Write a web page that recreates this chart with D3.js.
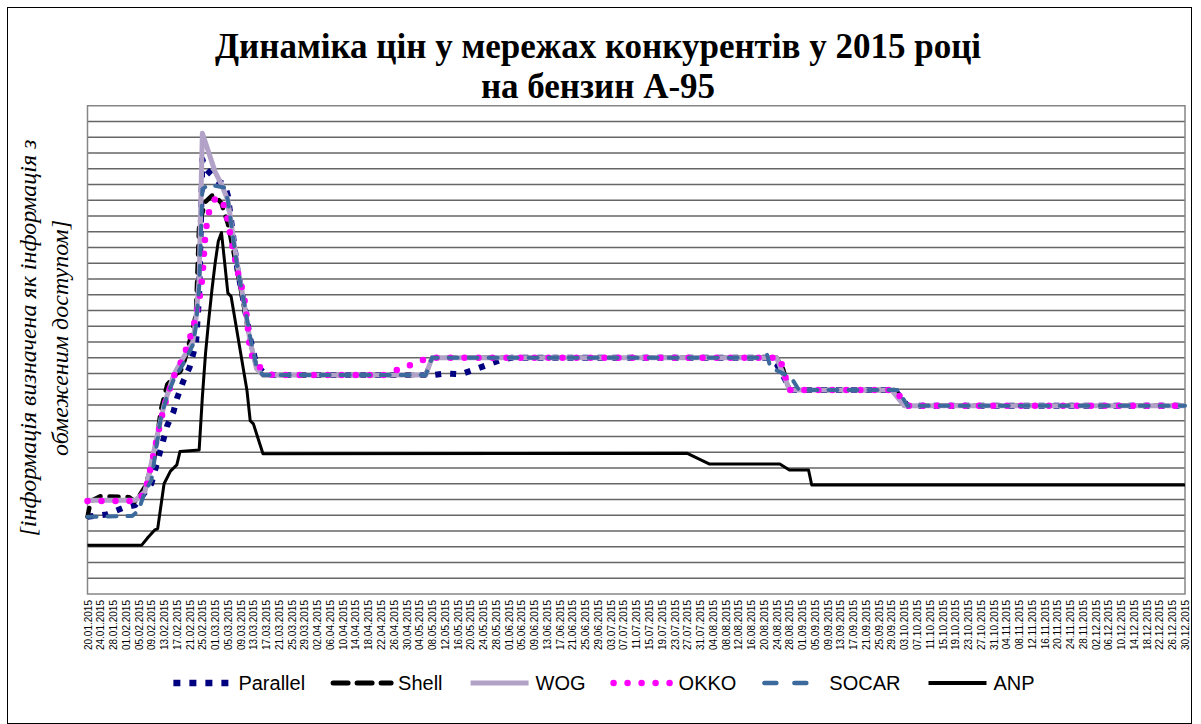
<!DOCTYPE html>
<html>
<head>
<meta charset="utf-8">
<style>
  body { margin: 0; background: #fff; }
  svg { display: block; }
  .tick text { font-family: "Liberation Sans", Arial, sans-serif; font-size: 10px; fill: #000; }
</style>
</head>
<body>
<script src="https://cdn.jsdelivr.net/npm/d3@7"></script>
<script>
// values are in grid units (the real price axis is hidden in the source)
var parallel = [["20.01",4.9],["26.01",5.05],["31.01",5.45],["04.02",5.65],["09.02",7.0],["14.02",10.7],["16.02",11.6],["17.02",12.4],["19.02",13.5],["21.02",14.4],["23.02",15.9],["24.02",19.0],["25.02",27.6],["26.02",27.0],["28.02",26.6],["01.03",26.3],["04.03",26.0],["05.03",25.3],["08.03",20.6],["10.03",18.5],["12.03",16.2],["14.03",14.5],["17.03",13.9],["08.05",13.9],["12.05",14.0],["17.05",13.95],["22.05",14.3],["26.05",14.6],["30.05",14.9],["02.06",15.0],["21.08",15.0],["24.08",14.6],["27.08",13.5],["29.08",12.95],["30.09",12.95],["04.10",11.96],["30.12",11.96]];
var shell = [["20.01",4.9],["21.01",5.9],["24.01",6.2],["02.02",6.15],["04.02",5.85],["07.02",6.8],["10.02",8.7],["12.02",11.7],["14.02",13.3],["17.02",14.0],["18.02",14.1],["19.02",14.5],["22.02",16.8],["23.02",17.8],["24.02",23.5],["26.02",24.9],["28.02",25.3],["01.03",25.3],["03.03",24.8],["05.03",23.5],["08.03",20.5],["10.03",18.3],["12.03",16.0],["14.03",14.4],["16.03",13.9],["06.05",13.9],["08.05",15.0],["24.08",15.0],["26.08",14.3],["27.08",13.6],["28.08",12.95],["30.09",12.95],["03.10",11.96],["30.12",11.96]];
var wog = [["20.01",5.95],["04.02",5.95],["07.02",6.5],["09.02",8.3],["11.02",10.2],["13.02",12.0],["16.02",13.9],["19.02",15.0],["22.02",16.0],["23.02",17.5],["24.02",20.0],["25.02",29.25],["01.03",26.8],["03.03",26.0],["05.03",25.0],["08.03",20.8],["10.03",18.6],["12.03",16.0],["14.03",14.3],["16.03",13.9],["06.05",13.9],["08.05",15.0],["24.08",15.0],["27.08",13.5],["28.08",12.95],["29.09",12.95],["03.10",11.96],["30.12",11.96]];
var okko = [["20.01",5.9],["04.02",5.9],["07.02",6.4],["09.02",8.2],["11.02",10.1],["13.02",11.9],["16.02",13.8],["19.02",15.0],["22.02",16.8],["24.02",18.6],["25.02",20.1],["26.02",23.0],["27.02",24.2],["01.03",25.1],["03.03",25.1],["04.03",24.5],["05.03",23.7],["06.03",22.5],["08.03",20.5],["10.03",19.0],["11.03",17.5],["12.03",15.3],["15.03",14.4],["17.03",14.1],["19.03",13.9],["23.04",13.9],["28.04",14.3],["02.05",14.6],["07.05",15.0],["25.08",15.0],["26.08",14.3],["27.08",13.6],["28.08",12.95],["30.09",12.95],["04.10",11.96],["30.12",11.96]];
var socar = [["20.01",4.9],["03.02",4.95],["05.02",5.3],["07.02",6.5],["09.02",7.2],["12.02",11.2],["14.02",12.6],["16.02",13.6],["19.02",14.6],["22.02",15.8],["23.02",17.0],["24.02",19.5],["25.02",25.7],["27.02",26.0],["04.03",25.8],["05.03",25.0],["08.03",20.7],["10.03",18.6],["12.03",16.3],["14.03",14.4],["16.03",13.9],["06.05",13.9],["08.05",15.0],["20.08",15.0],["21.08",15.2],["22.08",14.4],["27.08",13.9],["29.08",13.6],["31.08",12.95],["01.10",12.95],["04.10",11.96],["30.12",11.96]];
var anp = [["20.01",3.1],["06.02",3.1],["08.02",3.6],["10.02",4.05],["11.02",4.15],["13.02",7.0],["15.02",7.8],["17.02",8.2],["18.02",9.05],["24.02",9.15],["25.02",12.5],["26.02",15.3],["27.02",17.4],["28.02",19.3],["01.03",21.0],["02.03",22.4],["03.03",22.95],["05.03",19.1],["06.03",18.9],["11.03",12.9],["12.03",11.0],["13.03",10.8],["16.03",8.9],["27.07",8.93],["03.08",8.25],["25.08",8.25],["28.08",7.87],["03.09",7.87],["04.09",6.92],["30.12",6.92]];

var seriesNames = ["Parallel", "Shell", "WOG", "OKKO", "SOCAR", "ANP"];
var seriesData = [parallel, shell, wog, okko, socar, anp];
var firstDay = "20.01", lastDay = "30.12", tickStep = 4;
var title1 = "Динаміка цін у мережах конкурентів у 2015 році";
var title2 = "на бензин А-95";
var yTitle1 = "[інформація визначена як інформація з";
var yTitle2 = "обмеженим доступом]";

// line looks, same order as seriesNames
var looks = [
  {color: "#000080", width: 6, dash: "6,9", cap: "butt", legDash: "7,9", legWidth: 6.5},
  {color: "#000000", width: 4.5, dash: "9,9", cap: "round", legDash: "15,9", legWidth: 5},
  {color: "#b3a2c7", width: 5, dash: null, cap: "butt", legDash: null, legWidth: 5},
  {color: "#ff00ff", width: 6.5, dash: "0,14", cap: "round", legDash: "0,14", legWidth: 6.5},
  {color: "#3c6a9c", width: 4, dash: "9,11", cap: "round", legDash: "12,18", legWidth: 4.5},
  {color: "#000000", width: 3, dash: null, cap: "butt", legDash: null, legWidth: 4}
];

var width = 1201, height = 724;
var parse = function(s) { return d3.utcParse("%d.%m.%Y")(s + ".2015"); };

var svg = d3.select("body").append("svg")
    .attr("width", width)
    .attr("height", height);

svg.append("rect")
    .attr("x", 7.5).attr("y", 7.5)
    .attr("width", 1184).attr("height", 716)
    .attr("fill", "#fff")
    .attr("stroke", "#000")
    .attr("stroke-width", 1);

var x = d3.scaleUtc().domain([parse(firstDay), parse(lastDay)]).range([87.5, 1185]);
var y = d3.scaleLinear().domain([0, 31]).range([594, 105.75]);

// grid
svg.append("g")
  .selectAll("line")
  .data(d3.range(1, 31))
  .enter().append("line")
    .attr("x1", x.range()[0]).attr("x2", x.range()[1])
    .attr("y1", function(d) { return y(d); })
    .attr("y2", function(d) { return y(d); })
    .attr("stroke", "#666")
    .attr("stroke-width", 1.4);

svg.append("rect")
    .attr("x", 87.5).attr("y", y(31))
    .attr("width", x.range()[1] - x.range()[0])
    .attr("height", y(0) - y(31))
    .attr("fill", "none")
    .attr("stroke", "#868686")
    .attr("stroke-width", 1.5);

// x axis, every 4th day
var tickDates = d3.utcDay.range(parse(firstDay), d3.utcDay.offset(parse(lastDay), 1), tickStep);
var xAxis = svg.append("g")
    .attr("transform", "translate(0," + y(0) + ")")
    .call(d3.axisBottom(x).tickValues(tickDates).tickFormat(d3.utcFormat("%d.%m.%Y")).tickSize(0));
xAxis.select(".domain").remove();
xAxis.selectAll("text")
    .attr("transform", "rotate(-90)")
    .attr("x", -6)
    .attr("y", 0)
    .attr("dy", "0.35em")
    .style("text-anchor", "end");

// series lines
var line = d3.line()
    .x(function(d) { return x(parse(d[0])); })
    .y(function(d) { return y(d[1]); });

seriesData.forEach(function(data, i) {
  var lk = looks[i];
  svg.append("path")
      .datum(data)
      .attr("d", line)
      .attr("fill", "none")
      .attr("stroke", lk.color)
      .attr("stroke-width", lk.width)
      .attr("stroke-linecap", lk.cap)
      .attr("stroke-linejoin", "round")
      .attr("stroke-dasharray", lk.dash);
});

// titles
var title = svg.append("text")
    .attr("text-anchor", "middle")
    .style("font-family", "'Liberation Serif', 'Times New Roman', serif")
    .style("font-weight", "bold")
    .style("font-size", "35px");
title.append("tspan").attr("x", 598).attr("y", 58).text(title1);
title.append("tspan").attr("x", 598).attr("y", 98).text(title2);

var yTitle = svg.append("text")
    .attr("transform", "translate(0,338) rotate(-90)")
    .attr("text-anchor", "middle")
    .style("font-family", "'Liberation Serif', 'Times New Roman', serif")
    .style("font-style", "italic")
    .style("font-size", "24px");
yTitle.append("tspan").attr("x", 0).attr("y", 36).text(yTitle1);
yTitle.append("tspan").attr("x", 0).attr("y", 68).text(yTitle2);

// legend
var legend = svg.append("g");
var lx = 0, symLen = 58;
seriesNames.forEach(function(name, i) {
  var lk = looks[i];
  legend.append("line")
      .attr("x1", lx).attr("x2", lx + symLen)
      .attr("y1", 0).attr("y2", 0)
      .attr("stroke", lk.color)
      .attr("stroke-width", lk.legWidth)
      .attr("stroke-linecap", lk.cap)
      .attr("stroke-dasharray", lk.legDash);
  var t = legend.append("text")
      .attr("x", lx + symLen + 7)
      .attr("y", 7)
      .style("font-family", "'Liberation Sans', Arial, sans-serif")
      .style("font-size", "20px")
      .text(name);
  lx += symLen + 7 + t.node().getComputedTextLength() + 28;
});
lx -= 28;
legend.attr("transform", "translate(" + (604 - lx / 2) + ",683)");
</script>
</body>
</html>
